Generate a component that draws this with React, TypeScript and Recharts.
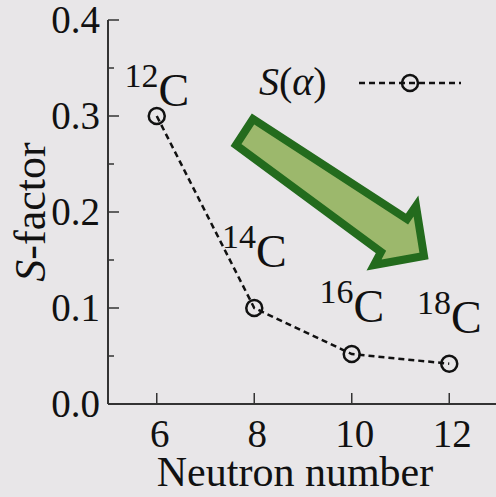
import { LineChart, Line, XAxis, YAxis, LabelList, Label } from 'recharts';

const neutrons = [6, 8, 10, 12];
const sFactor = [0.3, 0.1, 0.052, 0.042];
const massNumbers = ['12', '14', '16', '18'];
const labelLift = [10, 41, 32, 31];
const xTicks = [6, 8, 10, 12];
const yTicks = [0, 0.05, 0.1, 0.15, 0.2, 0.25, 0.3, 0.35, 0.4];

const data = neutrons.map((n, i) => ({ n, s: sFactor[i], iso: massNumbers[i] }));

const FONT = '"Liberation Serif", "Times New Roman", serif';
const INK = '#111';
const AXIS = '#333';
const BG = '#e8e6e8';

const isMajor = (v: number) => Math.round(v * 100) % 10 === 0;

function LeftTick(props: any) {
  const { x, y, payload } = props;
  const major = isMajor(payload.value);
  return (
    <g>
      <line x1={x} x2={x + (major ? 11 : 6)} y1={y} y2={y} stroke={AXIS} strokeWidth={1.5} />
      {major && (
        <text x={x - 8} y={y + 13} textAnchor="end" fontSize={39} fontFamily={FONT} fill={INK}>
          {payload.value.toFixed(1)}
        </text>
      )}
    </g>
  );
}

function RightTick(props: any) {
  const { x, y, payload } = props;
  const major = isMajor(payload.value);
  return <line x1={x} x2={x - (major ? 11 : 6)} y1={y} y2={y} stroke={AXIS} strokeWidth={1.5} />;
}

function BottomTick(props: any) {
  const { x, y, payload } = props;
  return (
    <g>
      <line x1={x} x2={x} y1={y} y2={y - 11} stroke={AXIS} strokeWidth={1.5} />
      <text x={x + 3} y={y + 43} textAnchor="middle" fontSize={39} fontFamily={FONT} fill={INK}>
        {payload.value}
      </text>
    </g>
  );
}

function TopTick(props: any) {
  const { x, y } = props;
  return <line x1={x} x2={x} y1={y} y2={y + 11} stroke={AXIS} strokeWidth={1.5} />;
}

function IsotopeLabel(props: any) {
  const { x, y, value, index } = props;
  return (
    <text x={x} y={y - labelLift[index]} textAnchor="middle" fontFamily={FONT} fill={INK}>
      <tspan fontSize={34} dy={-19}>{value}</tspan>
      <tspan fontSize={46} dy={19}>C</tspan>
    </text>
  );
}

function YTitle(props: any) {
  const vb = props.viewBox;
  const cy = vb.y + vb.height / 2;
  return (
    <text transform={`translate(45, ${cy}) rotate(-90)`} textAnchor="middle" fontSize={44} fontFamily={FONT} fill={INK}>
      <tspan fontStyle="italic">S</tspan>-factor
    </text>
  );
}

function LegendBox() {
  return (
    <g transform="translate(255, 57)">
      <text x={4} y={38} fontSize={40} fontFamily={FONT} fill={INK}>
        <tspan fontStyle="italic">S</tspan>(<tspan fontStyle="italic">α</tspan>)
      </text>
      <line x1={104} x2={206} y1={26} y2={26} stroke={INK} strokeWidth={2.5} strokeDasharray="6 4" />
      <circle cx={155} cy={26} r={8} fill="none" stroke={INK} strokeWidth={2.5} />
    </g>
  );
}

export default function App() {
  return (
    <div style={{ position: 'absolute', left: 0, top: 0, width: 496, height: 497, overflow: 'hidden', background: BG }}>
      <LineChart width={510} height={497} data={data} margin={{ top: 20, right: 12, bottom: 0, left: 0 }}>
        <XAxis
          xAxisId="bottom"
          dataKey="n"
          type="number"
          domain={[5, 13]}
          ticks={xTicks}
          interval={0}
          height={93}
          tickSize={0}
          tickMargin={0}
          tickLine={false}
          axisLine={{ stroke: AXIS, strokeWidth: 2 }}
          tick={<BottomTick />}
        >
          <Label
            content={(p: any) => (
              <text x={p.viewBox.x + p.viewBox.width / 2 - 8} y={486} textAnchor="middle" fontSize={42} fontFamily={FONT} fill={INK}>
                Neutron number
              </text>
            )}
          />
        </XAxis>
        <XAxis
          xAxisId="top"
          dataKey="n"
          type="number"
          orientation="top"
          domain={[5, 13]}
          ticks={xTicks}
          interval={0}
          height={0}
          tickSize={0}
          tickMargin={0}
          tickLine={false}
          axisLine={{ stroke: AXIS, strokeWidth: 2 }}
          tick={<TopTick />}
        />
        <YAxis
          yAxisId="left"
          type="number"
          domain={[0, 0.4]}
          ticks={yTicks}
          interval={0}
          width={108}
          tickSize={0}
          tickMargin={0}
          tickLine={false}
          axisLine={{ stroke: AXIS, strokeWidth: 2 }}
          tick={<LeftTick />}
        >
          <Label content={<YTitle />} />
        </YAxis>
        <YAxis
          yAxisId="right"
          orientation="right"
          type="number"
          domain={[0, 0.4]}
          ticks={yTicks}
          interval={0}
          width={0}
          tickSize={0}
          tickMargin={0}
          tickLine={false}
          axisLine={{ stroke: AXIS, strokeWidth: 2 }}
          tick={<RightTick />}
        />
        <Line
          xAxisId="bottom"
          yAxisId="left"
          dataKey="s"
          name="S(α)"
          stroke={INK}
          strokeWidth={2.5}
          strokeDasharray="6 4"
          dot={{ r: 8, fill: 'none', stroke: INK, strokeWidth: 2.5, strokeDasharray: '0' }}
          isAnimationActive={false}
        >
          <LabelList dataKey="iso" content={<IsotopeLabel />} />
        </Line>
      </LineChart>
      <svg width={496} height={497} style={{ position: 'absolute', left: 0, top: 0, pointerEvents: 'none' }}>
        <LegendBox />
        <polygon
          points="253,119 236,145 381,252 374,265 424,256 416,206 407,219"
          fill="#9cb86c"
          stroke="#236b1d"
          strokeWidth={8}
          strokeLinejoin="miter"
        />
      </svg>
    </div>
  );
}
